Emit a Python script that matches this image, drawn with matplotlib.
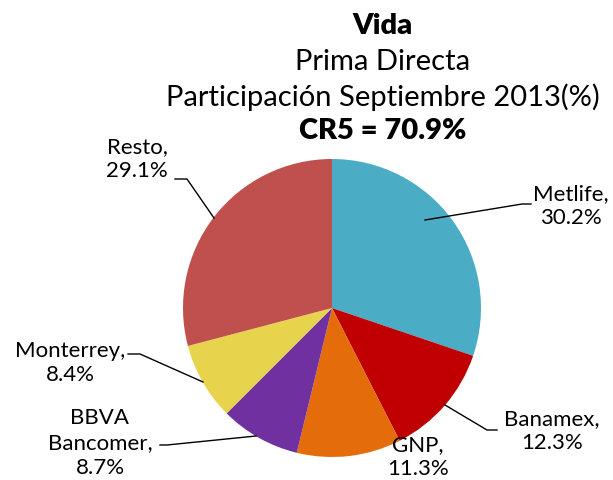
import matplotlib.pyplot as plt

plt.rcParams.update({
    "font.family": ["Lato", "DejaVu Sans"],
})

# ============================================================
# Data
# ============================================================
empresas = ['Metlife', 'Banamex', 'GNP', 'BBVA\nBancomer', 'Monterrey', 'Resto']
participacion = [30.2, 12.3, 11.3, 8.7, 8.4, 29.1]
cores = ['#4BACC6', '#C00000', '#E46C0A', '#7030A0', '#E8D34D', '#C0504D']

# ============================================================
# Figure (axes in pixel units, y upwards)
# ============================================================
W, H = 613, 481
fig = plt.figure(figsize=(W / 100, H / 100), dpi=100)
ax = fig.add_axes([0, 0, 1, 1])

cx, cy, r = 332, H - 309, 149
ax.pie(participacion, colors=cores, startangle=90, counterclock=False,
       center=(cx, cy), radius=r, wedgeprops={'linewidth': 0})

ax.set_xlim(0, W)
ax.set_ylim(0, H)
ax.set_aspect('equal')
ax.axis('off')

# Title
tx = 383
ax.text(tx, H - 26, 'Vida', ha='center', va='center', fontsize=21, fontweight='heavy')
ax.text(tx, H - 62, 'Prima Directa', ha='center', va='center', fontsize=21)
ax.text(tx, H - 97, 'Participación Septiembre 2013(%)', ha='center', va='center', fontsize=21)
ax.text(tx, H - 131, 'CR5 = 70.9%', ha='center', va='center', fontsize=21, fontweight='heavy')

# Labels: (text position, leader line points)
etiquetas = [
    ((571, 206), [(425, 221), (522, 205), (531, 205)]),
    ((552, 431), [(445, 406), (487, 431), (497, 431)]),
    ((418, 457), None),
    ((100, 443), [(256, 437), (167, 446), (160, 446)]),
    ((70, 363), [(203, 383), (140, 355), (128, 355)]),
    ((137, 159), [(214, 219), (187, 180), (175, 180)]),
]

for nome, val, (pos, linha) in zip(empresas, participacion, etiquetas):
    ax.text(pos[0], H - pos[1], f'{nome},\n{val:.1f}%', ha='center', va='center',
            multialignment='center', fontsize=16, linespacing=1.3)
    if linha:
        xs = [p[0] for p in linha]
        ys = [H - p[1] for p in linha]
        ax.plot(xs, ys, color='black', linewidth=1)

plt.savefig('out.png', dpi=100)
